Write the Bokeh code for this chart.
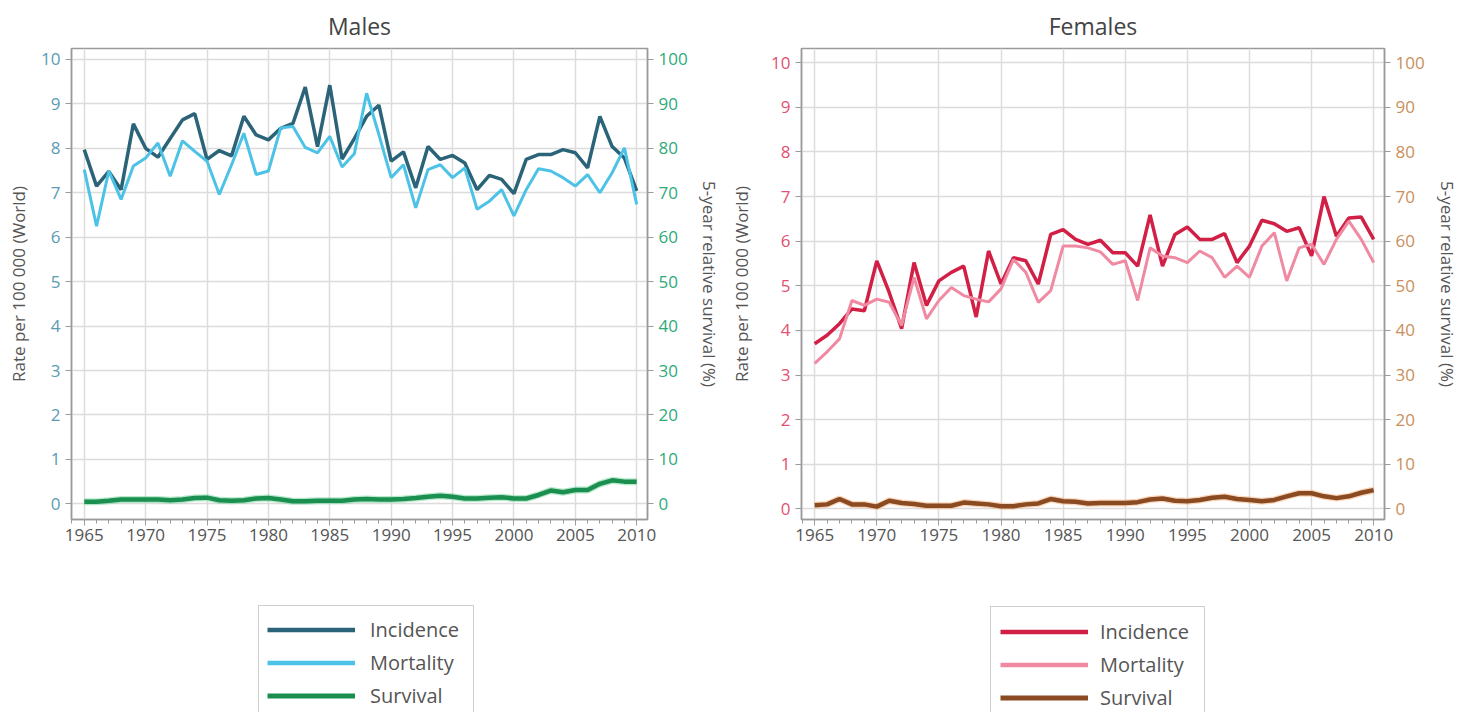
from bokeh.plotting import figure
from bokeh.models import (Range1d, LinearAxis, SingleIntervalTicker, Legend, LegendItem)
from bokeh.layouts import row, column
from bokeh.embed import file_html
from bokeh.resources import INLINE

years = list(range(1965, 2011))

male_incidence = [7.97, 7.15, 7.48, 7.07, 8.55, 8.0, 7.8, 8.22, 8.64, 8.78, 7.75, 7.95, 7.83, 8.72, 8.3, 8.19,
                  8.45, 8.56, 9.38, 8.04, 9.42, 7.76, 8.22, 8.72, 8.97, 7.71, 7.92, 7.11, 8.04, 7.75,
                  7.84, 7.67, 7.07, 7.39, 7.3, 6.98, 7.75, 7.86, 7.86, 7.97, 7.9, 7.56, 8.72, 8.04, 7.78, 7.04]
male_mortality = [7.52, 6.25, 7.49, 6.85, 7.6, 7.78, 8.12, 7.37, 8.17, 7.93, 7.71, 6.96, 7.63, 8.34, 7.41, 7.49,
                  8.46, 8.49, 8.02, 7.9, 8.27, 7.58, 7.88, 9.24, 8.31, 7.34, 7.63, 6.66, 7.52, 7.63,
                  7.34, 7.56, 6.63, 6.81, 7.07, 6.48, 7.07, 7.54, 7.49, 7.34, 7.15, 7.41, 7.0, 7.45, 8.01, 6.74]
male_survival = [0.5, 0.5, 0.7, 1.0, 1.0, 1.0, 1.0, 0.8, 1.0, 1.3, 1.4, 0.8, 0.7, 0.8, 1.2, 1.3,
                 1.0, 0.6, 0.6, 0.7, 0.7, 0.7, 1.0, 1.1, 1.0, 1.0, 1.1, 1.3, 1.6, 1.8,
                 1.6, 1.2, 1.2, 1.4, 1.5, 1.2, 1.2, 2.0, 3.0, 2.6, 3.1, 3.1, 4.5, 5.3, 5.0, 5.0]

female_incidence = [3.7, 3.89, 4.15, 4.48, 4.44, 5.56, 4.85, 4.04, 5.52, 4.56, 5.11, 5.3, 5.44, 4.3, 5.78, 5.04,
                    5.63, 5.56, 5.04, 6.15, 6.26, 6.04, 5.93, 6.02, 5.74, 5.74, 5.44, 6.59, 5.44, 6.15,
                    6.32, 6.04, 6.04, 6.17, 5.52, 5.89, 6.47, 6.39, 6.22, 6.3, 5.67, 7.0, 6.11, 6.52, 6.54, 6.04]
female_mortality = [3.26, 3.52, 3.81, 4.67, 4.56, 4.7, 4.63, 4.11, 5.19, 4.26, 4.67, 4.96, 4.78, 4.7, 4.64, 4.93,
                    5.59, 5.3, 4.63, 4.89, 5.89, 5.89, 5.85, 5.76, 5.48, 5.56, 4.67, 5.85, 5.67, 5.63,
                    5.52, 5.78, 5.63, 5.19, 5.44, 5.19, 5.89, 6.19, 5.11, 5.85, 5.93, 5.48, 6.04, 6.45, 6.04, 5.52]
female_survival = [0.8, 1.0, 2.2, 1.0, 1.0, 0.5, 1.8, 1.3, 1.1, 0.7, 0.7, 0.7, 1.4, 1.2, 1.0, 0.6,
                   0.6, 1.0, 1.2, 2.2, 1.7, 1.6, 1.2, 1.3, 1.3, 1.3, 1.5, 2.1, 2.3, 1.8,
                   1.7, 2.0, 2.5, 2.7, 2.2, 2.0, 1.7, 2.0, 2.8, 3.5, 3.5, 2.8, 2.4, 2.8, 3.6, 4.2]

series_labels = ["Incidence", "Mortality", "Survival"]
FONT = "Open Sans"
MAIN_H = 555
LEG_H = 157


def make_panel(title, inc, mort, surv, colors, left_tick_color, right_tick_color,
               width, border_left, border_right, xr, yr, left_standoff, right_standoff,
               legend_x, legend_y, legend_pad, legend_standoff):
    p = figure(width=width, height=MAIN_H, output_backend="svg", toolbar_location=None,
               x_range=Range1d(*xr), y_range=Range1d(*yr),
               min_border_left=border_left, min_border_right=border_right,
               min_border_top=46, min_border_bottom=36)
    p.extra_y_ranges = {"surv": Range1d(yr[0] * 10, yr[1] * 10)}
    p.title.text = title
    p.title.align = "center"
    p.title.text_font = FONT
    p.title.text_font_size = "23px"
    p.title.text_font_style = "normal"
    p.title.text_color = "#444444"
    p.title.standoff = 14
    p.outline_line_color = "#9a9a9a"
    p.outline_line_width = 1.5

    p.xaxis.ticker = SingleIntervalTicker(interval=5, num_minor_ticks=5)
    p.yaxis.ticker = SingleIntervalTicker(interval=1, num_minor_ticks=0)
    p.yaxis.axis_label = "Rate per 100 000 (World)"
    p.yaxis.major_label_text_color = left_tick_color

    raxis = LinearAxis(y_range_name="surv", ticker=SingleIntervalTicker(interval=10, num_minor_ticks=0),
                       axis_label="5-year relative survival (%)")
    raxis.major_label_text_color = right_tick_color
    p.add_layout(raxis, "right")

    for ax in [p.xaxis[0], p.yaxis[0], raxis]:
        ax.axis_line_color = "#9a9a9a"
        ax.axis_line_width = 1.5
        ax.major_tick_line_color = "#9a9a9a"
        ax.minor_tick_line_color = "#9a9a9a"
        ax.major_tick_in = 0
        ax.major_tick_out = 6
        ax.minor_tick_in = 0
        ax.minor_tick_out = 4
        ax.major_label_text_font = FONT
        ax.major_label_text_font_size = "17px"
        ax.axis_label_text_font = FONT
        ax.axis_label_text_font_size = "17px"
        ax.axis_label_text_font_style = "normal"
        ax.axis_label_text_color = "#555555"
    p.yaxis.axis_label_standoff = left_standoff
    raxis.axis_label_standoff = right_standoff
    p.xaxis.major_label_text_color = "#555555"
    p.xaxis.major_label_standoff = 3

    p.xgrid.grid_line_color = "#dcdcdc"
    p.ygrid.grid_line_color = "#dcdcdc"
    p.xgrid.grid_line_width = 1.5
    p.ygrid.grid_line_width = 1.5

    p.line(years, inc, line_color=colors[0], line_width=3.5)
    p.line(years, mort, line_color=colors[1], line_width=3)
    p.line(years, surv, line_color=colors[3], line_width=7, y_range_name="surv", line_alpha=0.5)
    p.line(years, surv, line_color=colors[2], line_width=4.5, y_range_name="surv")

    # legend in its own figure below the chart
    lg = figure(width=width, height=LEG_H, output_backend="svg", toolbar_location=None,
                x_range=Range1d(0, 1), y_range=Range1d(0, 1), x_axis_type=None, y_axis_type=None,
                min_border_left=border_left, min_border_right=border_right,
                min_border_top=0, min_border_bottom=0)
    lg.outline_line_color = None
    lg.xgrid.visible = False
    lg.ygrid.visible = False
    lr1 = lg.line([5, 6], [5, 6], line_color=colors[0], line_width=4.5)
    lr2 = lg.line([5, 6], [5, 6], line_color=colors[1], line_width=4.5)
    lr3 = lg.line([5, 6], [5, 6], line_color=colors[2], line_width=5)
    legend = Legend(items=[LegendItem(label=series_labels[0], renderers=[lr1]),
                           LegendItem(label=series_labels[1], renderers=[lr2]),
                           LegendItem(label=series_labels[2], renderers=[lr3])],
                    location=(legend_x, legend_y))
    legend.label_text_font = FONT
    legend.label_text_font_size = "20px"
    legend.label_text_color = "#555555"
    legend.glyph_width = 88
    legend.glyph_height = 31
    legend.label_height = 31
    legend.label_width = 95
    legend.label_standoff = legend_standoff
    legend.spacing = 2
    legend.padding = legend_pad
    legend.margin = 0
    legend.border_line_color = "#a0a0a0"
    legend.border_line_width = 1.5
    lg.add_layout(legend, "center")
    return column(p, lg, spacing=0)


c1 = make_panel("Males", male_incidence, male_mortality, male_survival,
                ["#2b6478", "#4cc3e6", "#1b8f4f", "#6fd39a"], "#5a9bb3", "#2eaa7a",
                725, 71, 78, (1963.96, 2010.88), (-0.352, 10.246), 8, 7,
                187, -8, 8, 15)
c2 = make_panel("Females", female_incidence, female_mortality, female_survival,
                ["#d11f45", "#f08aa2", "#8a4a22", "#f5b07a"], "#e2506f", "#c98f5c",
                744, 76, 85, (1963.94, 2010.87), (-0.239, 10.319), 15, 8,
                189, -11, 9, 12)

layout = row(c1, c2, spacing=0)
open("out.html", "w").write(file_html(layout, INLINE))
